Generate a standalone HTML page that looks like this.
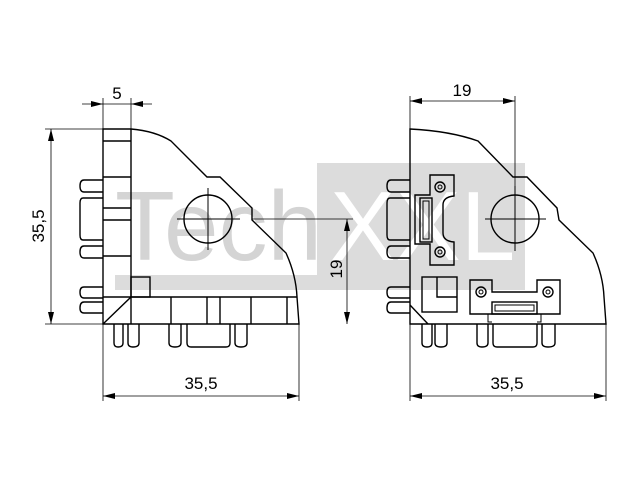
<!DOCTYPE html>
<html><head><style>body{margin:0;background:#fff}svg{display:block}</style></head><body>
<svg width="640" height="480" viewBox="0 0 640 480" xmlns="http://www.w3.org/2000/svg" font-family="Liberation Sans, sans-serif">
<!-- watermark -->
<rect x="317" y="163" width="208" height="127" fill="#dcdcdc"/>
<rect x="115" y="275" width="202" height="15" fill="#dcdcdc"/>
<text x="115" y="260" font-size="98" fill="#d4d4d4">Tech</text>
<text x="330" y="260" font-size="98" fill="#fff">XXL</text>

<g fill="none" stroke="#000" stroke-width="1.4">
<!-- LEFT VIEW -->
<path d="M103,129 L131,129 Q155,131 171,141 L207,177 L220,177 L252,208 L252,220 L286,253 Q296,275 297,297 L299,324 L103,324 Z"/>
<line x1="131" y1="129" x2="131" y2="297"/>
<line x1="103" y1="141" x2="131" y2="141"/>
<line x1="103" y1="177" x2="131" y2="177"/>
<line x1="103" y1="208" x2="131" y2="208"/>
<line x1="103" y1="220" x2="131" y2="220"/>
<line x1="103" y1="256" x2="131" y2="256"/>
<line x1="103" y1="297" x2="297" y2="297"/>
<rect x="131" y="277" width="19" height="20"/>
<line x1="131" y1="297" x2="103" y2="324"/>
<line x1="171" y1="297" x2="171" y2="324"/>
<line x1="207" y1="297" x2="207" y2="324"/>
<line x1="220" y1="297" x2="220" y2="324"/>
<line x1="251" y1="297" x2="251" y2="324"/>
<line x1="287" y1="297" x2="287" y2="324"/>
<line x1="131" y1="297" x2="131" y2="324"/>
<circle cx="208" cy="219" r="24"/>
<g stroke-width="1">
<line x1="177" y1="219" x2="240" y2="219"/>
<line x1="208" y1="188" x2="208" y2="250"/>
</g>
<!-- left pins -->
<path d="M103,180 L84,180 Q80,180 80,186 Q80,192 84,192 L103,192"/>
<path d="M103,198 L83,198 Q80,198 80,203 L80,235 Q80,240 83,240 L103,240"/>
<path d="M103,246 L84,246 Q80,246 80,252 Q80,258 84,258 L103,258"/>
<path d="M103,287 L84,287 Q80,287 80,292 Q80,298 84,298 L103,298"/>
<path d="M103,302 L84,302 Q80,302 80,308 Q80,313 84,313 L103,313"/>
<!-- bottom pins -->
<path d="M114,324 L114,343 Q114,347 118,347 Q123,347 123,343 L123,324"/>
<path d="M128,324 L128,343 Q128,347 133,347 Q139,347 139,343 L139,324"/>
<path d="M169,324 L169,343 Q169,347 175,347 Q181,347 181,343 L181,324"/>
<path d="M187,324 L187,343 Q187,347 191,347 L226,347 Q230,347 230,343 L230,324"/>
<path d="M235,324 L235,343 Q235,347 241,347 Q247,347 247,343 L247,324"/>

<!-- RIGHT VIEW -->
<path d="M410,129 Q450,131 478,141 L513,177 L527,177 L557,208 L559,220 L593,253 Q603,275 604,297 L606,324 L410,324 Z"/>
<line x1="410" y1="305" x2="428" y2="324"/>
<circle cx="515" cy="219" r="24"/>
<g stroke-width="1">
<line x1="485" y1="219" x2="546" y2="219"/>
<line x1="515" y1="186" x2="515" y2="251"/>
</g>
<path d="M430,175 L454,175 L454,196 Q443,197 443,205 L443,233 Q443,241 454,242 L454,265 L430,265 L430,244 L415,244 L415,195 L430,195 Z"/>
<rect x="420" y="198" width="12" height="44"/>
<rect x="423" y="201" width="6" height="38" stroke-width="1"/>
<circle cx="440" cy="187" r="5"/><circle cx="440" cy="187" r="2" stroke-width="1"/>
<circle cx="440" cy="252" r="5"/><circle cx="440" cy="252" r="2" stroke-width="1"/>
<rect x="422" y="277" width="35" height="35"/>
<path d="M437,277 L437,297 L457,297"/>
<path d="M470,280 L492,280 L492,292 L537,292 L537,280 L560,280 L560,314 L470,314 Z"/>
<rect x="492" y="302" width="45" height="12"/>
<rect x="495" y="305" width="39" height="6" stroke-width="1"/>
<circle cx="481" cy="292" r="5"/><circle cx="481" cy="292" r="2" stroke-width="1"/>
<circle cx="548" cy="292" r="5"/><circle cx="548" cy="292" r="2" stroke-width="1"/>
<path d="M488,314 L488,322 L492,322 M541,314 L541,322 L537,322" stroke-width="1"/>
<path d="M410,180 L391,180 Q387,180 387,186 Q387,192 391,192 L410,192"/>
<path d="M410,198 L390,198 Q387,198 387,203 L387,235 Q387,240 390,240 L410,240"/>
<path d="M410,246 L391,246 Q387,246 387,252 Q387,258 391,258 L410,258"/>
<path d="M410,287 L391,287 Q387,287 387,292 Q387,298 391,298 L410,298"/>
<path d="M410,302 L391,302 Q387,302 387,308 Q387,313 391,313 L410,313"/>
<path d="M422,324 L422,343 Q422,347 427,347 Q432,347 432,343 L432,324"/>
<path d="M435,324 L435,343 Q435,347 441,347 Q447,347 447,343 L447,324"/>
<path d="M477,324 L477,343 Q477,347 482,347 Q488,347 488,343 L488,324"/>
<path d="M493,324 L493,343 Q493,347 497,347 L533,347 Q537,347 537,343 L537,324"/>
<path d="M542,324 L542,343 Q542,347 548,347 Q555,347 555,343 L555,324"/>
</g>

<!-- dimensions -->
<g stroke="#000" stroke-width="0.8" fill="none">
<line x1="45" y1="129" x2="103" y2="129"/>
<line x1="45" y1="324" x2="103" y2="324"/>
<line x1="51" y1="129" x2="51" y2="324"/>
<line x1="103" y1="98" x2="103" y2="129"/>
<line x1="131" y1="98" x2="131" y2="129"/>
<line x1="82" y1="104" x2="152" y2="104"/>
<line x1="103" y1="324" x2="103" y2="401"/>
<line x1="299" y1="324" x2="299" y2="401"/>
<line x1="103" y1="396" x2="299" y2="396"/>
<line x1="252" y1="219" x2="353" y2="219"/>
<line x1="347" y1="219" x2="347" y2="324"/>
<line x1="410" y1="96" x2="410" y2="129"/>
<line x1="515" y1="96" x2="515" y2="186"/>
<line x1="410" y1="101" x2="515" y2="101"/>
<line x1="410" y1="324" x2="410" y2="401"/>
<line x1="606" y1="324" x2="606" y2="401"/>
<line x1="410" y1="396" x2="606" y2="396"/>
</g>
<g fill="#000">
<path d="M51,129 l-3,12 h6z"/><path d="M51,324 l-3,-12 h6z"/>
<path d="M103,104 l-12,-3 v6z"/><path d="M131,104 l12,-3 v6z"/>
<path d="M103,396 l12,-3 v6z"/><path d="M299,396 l-12,-3 v6z"/>
<path d="M347,219 l-3,12 h6z"/><path d="M347,324 l-3,-12 h6z"/>
<path d="M410,101 l12,-3 v6z"/><path d="M515,101 l-12,-3 v6z"/>
<path d="M410,396 l12,-3 v6z"/><path d="M606,396 l-12,-3 v6z"/>
</g>
<g font-size="17" fill="#000" text-anchor="middle">
<text x="117" y="99">5</text>
<text x="201" y="389">35,5</text>
<text x="462" y="96">19</text>
<text x="507" y="389">35,5</text>
<text transform="translate(44,226) rotate(-90)">35,5</text>
<text transform="translate(342,269) rotate(-90)">19</text>
</g>
</svg>
</body></html>
